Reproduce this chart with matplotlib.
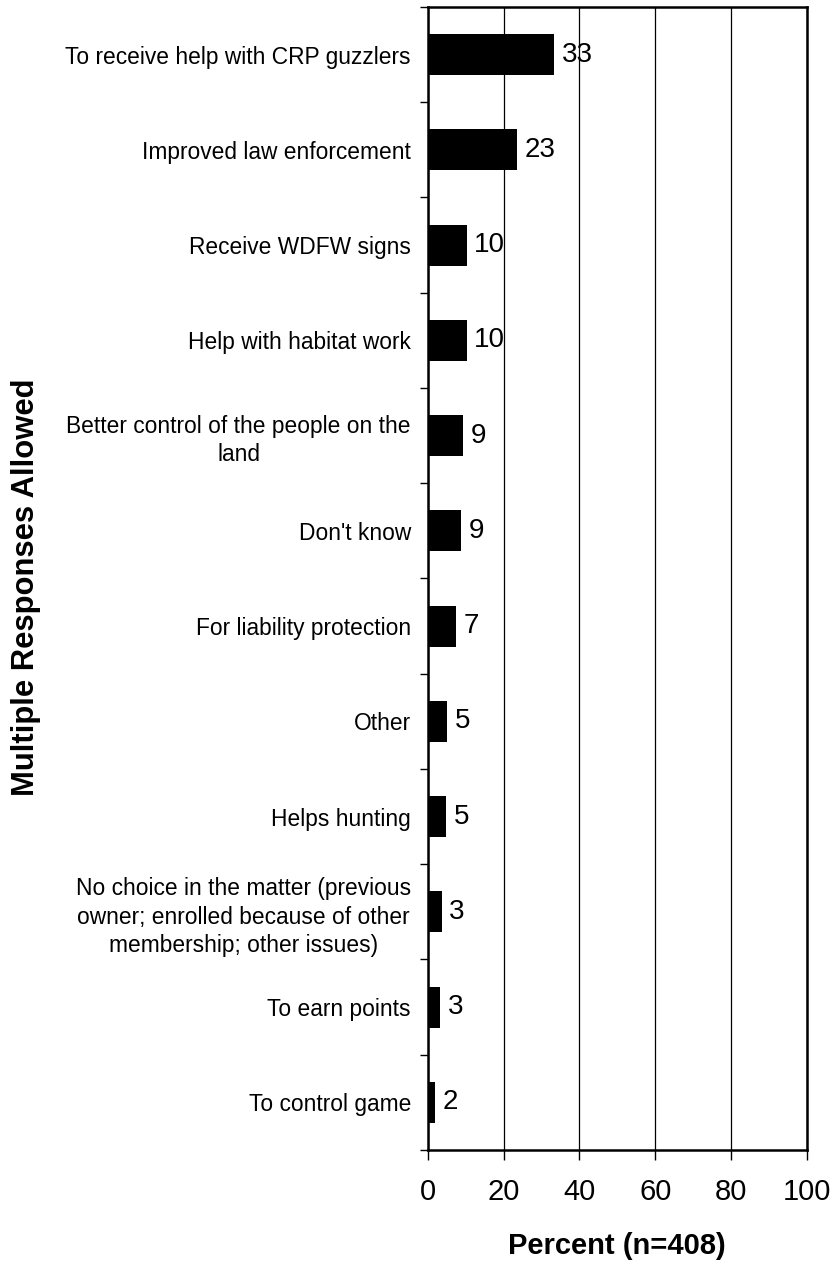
import numpy as np
import matplotlib
matplotlib.use("Agg")
import matplotlib.pyplot as plt

plt.rcParams['font.family'] = ['Liberation Sans', 'DejaVu Sans']

# data (top to bottom)
reasons = ["To receive help with CRP guzzlers",
           "Improved law enforcement",
           "Receive WDFW signs",
           "Help with habitat work",
           "Better control of the people on the\nland",
           "Don't know",
           "For liability protection",
           "Other",
           "Helps hunting",
           "No choice in the matter (previous\nowner; enrolled because of other\nmembership; other issues)",
           "To earn points",
           "To control game"]
percent = [33.4, 23.5, 10.3, 10.3, 9.3, 8.8, 7.5, 5.2, 4.8, 3.7, 3.2, 1.9]
value_labels = ["33", "23", "10", "10", "9", "9", "7", "5", "5", "3", "3", "2"]
x_ticks = [0, 20, 40, 60, 80, 100]

fig = plt.figure(figsize=(8.33, 12.63), dpi=100)
ax = fig.add_axes([0.5134, 0.0895, 0.4554, 0.905])

y = np.arange(len(reasons))
ax.barh(y, percent, height=0.43, color="black", zorder=3)

# value labels
for yi, v, lab in zip(y, percent, value_labels):
    ax.annotate(lab, (v, yi), xytext=(5.5, 0), textcoords="offset points",
                va="center", ha="left", fontsize=20, zorder=4)

ax.set_xlim(0, 100)
ax.set_ylim(len(reasons) - 0.5, -0.5)
ax.set_xticks(x_ticks)
ax.tick_params(axis="x", labelsize=21, length=7, width=1, pad=13, direction="out")

# category labels at bar centres, tick marks at boundaries
ax.set_yticks(y)
ax.set_yticklabels(reasons, fontsize=16.4, multialignment="center", linespacing=1.3)
ax.tick_params(axis="y", which="major", length=0, pad=12)
ax.set_yticks(np.arange(len(reasons) + 1) - 0.5, minor=True)
ax.tick_params(axis="y", which="minor", length=6, width=1, direction="out")

ax.grid(True, axis="x", color="black", linewidth=0.9, zorder=0)
for s in ax.spines.values():
    s.set_linewidth(1.8)

ax.set_xlabel("Percent (n=408)", fontsize=21, fontweight="bold", labelpad=19)
fig.text(26 / 833, 0.535, "Multiple Responses Allowed", rotation=90,
         ha="center", va="center", fontsize=22.3, fontweight="bold")

fig.savefig("out.png", dpi=100)
